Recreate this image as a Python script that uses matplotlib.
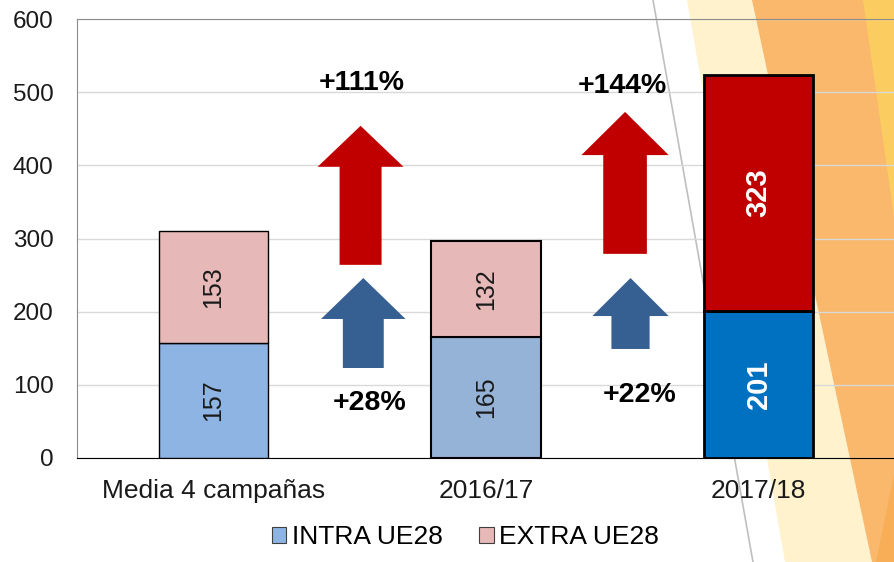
import matplotlib
matplotlib.use('Agg')
import matplotlib.pyplot as plt
from matplotlib.patches import Polygon

# === Data ===
categories = ['Media 4 campañas', '2016/17', '2017/18']
intra = [157, 165, 201]
extra = [153, 132, 323]
intra_growth = ['+28%', '+22%']
extra_growth = ['+111%', '+144%']

intra_colors = ['#8EB4E3', '#95B3D7', '#0070C0']
extra_colors = ['#E6B9B8', '#E6B9B8', '#C00000']
edge_widths = [1.0, 1.5, 2.0]

plt.rcParams['font.family'] = ['Liberation Sans', 'DejaVu Sans']

W, H = 895, 562
fig = plt.figure(figsize=(W / 100, H / 100), dpi=100, facecolor='white')


# === Background decoration (slide theme), in pixel coords ===
def px_poly(points, color, z=0):
    pts = [(x / W, 1 - y / H) for x, y in points]
    fig.add_artist(Polygon(pts, closed=True, facecolor=color, edgecolor='none',
                           transform=fig.transFigure, zorder=z))


px_poly([(687, 0), (752, 0), (872, 562), (785, 562)], '#FFF2CC')
px_poly([(752, 0), (895, 0), (895, 562), (872, 562)], '#F9B86B')
px_poly([(895, 470), (895, 562), (876, 562)], '#F8AE57')
px_poly([(863, 0), (895, 0), (895, 224)], '#FBCD60')
fig.add_artist(plt.Line2D([653 / W, 753 / W], [1, 0], color='#BFBFBF', lw=1.2,
                          transform=fig.transFigure, zorder=0.5))

# === Axes ===
ax = fig.add_axes([77 / W, 1 - 458 / H, 1 - 77 / W, (458 - 19) / H])
ax.set_facecolor('none')
ax.set_zorder(2)

x = list(range(len(categories)))
bars_in = ax.bar(x, intra, width=0.4, color=intra_colors, edgecolor='black',
                 linewidth=edge_widths, zorder=3, label='INTRA UE28')
bars_ex = ax.bar(x, extra, width=0.4, bottom=intra, color=extra_colors,
                 edgecolor='black', linewidth=edge_widths, zorder=3,
                 label='EXTRA UE28')

for i in x:
    last = i == len(categories) - 1
    kw = dict(color='white', fontsize=21, fontweight='bold') if last else \
        dict(color='#1a1a1a', fontsize=18)
    ax.text(i, intra[i] / 2, str(intra[i]), rotation=90, ha='center',
            va='center', zorder=4, **kw)
    ax.text(i, intra[i] + extra[i] / 2, str(extra[i]), rotation=90,
            ha='center', va='center', zorder=4, **kw)


# growth arrows between bars
def up_arrow(xc, y0, y1, head_w, shaft_w, head_len, color):
    pts = [(xc - shaft_w / 2, y0), (xc + shaft_w / 2, y0),
           (xc + shaft_w / 2, y1 - head_len), (xc + head_w / 2, y1 - head_len),
           (xc, y1), (xc - head_w / 2, y1 - head_len),
           (xc - shaft_w / 2, y1 - head_len)]
    ax.add_patch(Polygon(pts, closed=True, facecolor=color, edgecolor='none',
                         zorder=3))


up_arrow(0.54, 264, 454, 0.315, 0.154, 56, '#C00000')
up_arrow(0.55, 123, 246, 0.31, 0.15, 56, '#376092')
up_arrow(1.51, 279, 473, 0.32, 0.16, 59, '#C00000')
up_arrow(1.53, 149, 246, 0.28, 0.14, 52, '#376092')

pct_kw = dict(ha='center', va='center', fontsize=20.5, fontweight='bold',
              zorder=4)
ax.text(0.544, 513, extra_growth[0], **pct_kw)
ax.text(1.50, 508, extra_growth[1], **pct_kw)
ax.text(0.573, 75, intra_growth[0], **pct_kw)
ax.text(1.562, 86, intra_growth[1], **pct_kw)

ax.set_xlim(-0.5, 2.5)
ax.set_ylim(0, 600)
ax.set_yticks(range(0, 601, 100))
ax.set_xticks(x)
ax.set_xticklabels(categories)
ax.tick_params(axis='y', length=0, pad=17, labelsize=17.5, labelcolor='#1a1a1a')
ax.tick_params(axis='x', length=0, pad=15, labelsize=19, labelcolor='#1a1a1a')
ax.grid(axis='y', color='#D9D9D9', lw=1, zorder=1)
ax.set_axisbelow(True)
ax.spines['right'].set_visible(False)
ax.spines['left'].set_color('#8C8C8C')
ax.spines['top'].set_color('#8C8C8C')
ax.spines['bottom'].set_color('black')

fig.legend(handles=[bars_in, bars_ex], loc='center',
           bbox_to_anchor=(0.52, 1 - 537 / H), ncol=2, frameon=False,
           fontsize=19, handlelength=0.55, handleheight=0.55,
           handletextpad=0.2, columnspacing=1.4)
leg = fig.legends[0]
for h, c in zip(leg.legend_handles, ['#8EB4E3', '#E6B9B8']):
    h.set_facecolor(c)
    h.set_edgecolor('#404040')
    h.set_linewidth(0.8)

fig.savefig('out.png', dpi=100, facecolor='white')
